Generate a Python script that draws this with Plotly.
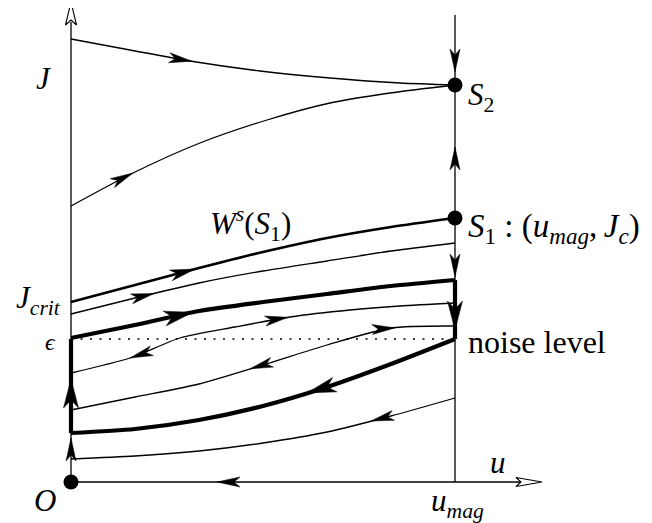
import numpy as np
import plotly.graph_objects as go

# ---------------- data (u, J) in diagram units (origin O at 0,0) ----------------
U_MAG = 384
EPS = 143          # noise level
S1_J = 264
S2_J = 397
J_TOP = 467        # top of the u = u_mag line
Y_AXIS_TOP = 480
X_AXIS_END = 482

# trajectories
top_u = [0, 59, 119, 189, 259, 329, 384]
top_J = [443, 432, 421, 411, 404, 399, 397]

second_u = [0, 62, 129, 196, 259, 319, 384]
second_J = [276, 309, 339, 362, 379, 389, 397]

ws_u = [0, 64, 128, 192, 256, 320, 384]
ws_J = [180, 197, 214, 230, 244, 255, 264]

below_ws_u = [0, 64, 128, 192, 256, 320, 384]
below_ws_J = [168, 184, 199, 211, 221, 231, 239]

eps_loop_u = [0, 64, 128, 192, 256, 320, 384]
eps_loop_J = [144, 157, 171, 180, 188, 196, 202]

curveA_u = [0, 59, 109, 164, 219, 279, 329, 384]
curveA_J = [109, 124, 144, 155, 165, 172, 176, 179]

curveB_u = [0, 64, 128, 192, 256, 320, 384]
curveB_J = [72, 85, 98, 117, 137, 154, 156]

return_u = [0, 64, 128, 192, 256, 320, 384]
return_J = [49, 53, 62, 76, 95, 118, 143]

bottom_u = [0, 64, 128, 192, 256, 320, 384]
bottom_J = [23, 26, 31, 39, 50, 66, 84]

LOOP_BOTTOM = 49

# arrow tips along curves: (curve, tip u, direction sign, size)
curve_arrows = [
    ("top", 121, +1, "thin"),
    ("second", 62, +1, "thin"),
    ("ws", 124, +1, "mid"),
    ("below_ws", 83, +1, "thin"),
    ("eps_loop", 122, +1, "thick"),
    ("curveA", 59, -1, "thin"),
    ("curveA", 217, +1, "thin"),
    ("curveB", 179, -1, "thin"),
    ("curveB", 324, +1, "thin"),
    ("return", 236, -1, "thick"),
    ("bottom", 300, -1, "thin"),
]
# arrows on vertical lines: (u, tip J, direction sign, size)
vertical_arrows = [
    (U_MAG, 410, -1, "thin"),
    (U_MAG, 335, +1, "thin"),
    (U_MAG, 205, -1, "thin"),
    (U_MAG, 152, -1, "thick"),
    (0, 103, +1, "thick"),
    (0, 44, +1, "thin"),
]
# arrow on the u axis
axis_arrows = [(146, 0, -1, "thin")]

curves = {
    "top": (top_u, top_J, 1.3),
    "second": (second_u, second_J, 1.3),
    "ws": (ws_u, ws_J, 2.6),
    "below_ws": (below_ws_u, below_ws_J, 1.3),
    "eps_loop": (eps_loop_u, eps_loop_J, 4.2),
    "curveA": (curveA_u, curveA_J, 1.3),
    "curveB": (curveB_u, curveB_J, 1.3),
    "return": (return_u, return_J, 4.2),
    "bottom": (bottom_u, bottom_J, 1.3),
}

ARROW_SIZES = {"thin": (23, 5.0, 6), "mid": (25, 5.5, 7), "thick": (29, 7.5, 8)}

fig = go.Figure()

def add_line(xs, ys, width, dash=None, shape="spline"):
    fig.add_trace(go.Scatter(x=xs, y=ys, mode="lines",
                             line=dict(color="black", width=width, dash=dash,
                                       shape=shape, smoothing=0.7),
                             hoverinfo="skip"))

def arrowhead(tx, ty, dx, dy, size, filled=True, lw=0.5):
    L, W, d = ARROW_SIZES[size] if isinstance(size, str) else size
    n = np.hypot(dx, dy)
    dx, dy = dx / n, dy / n
    px, py = -dy, dx
    xs = [tx, tx - L * dx + W * px, tx - (L - d) * dx, tx - L * dx - W * px, tx]
    ys = [ty, ty - L * dy + W * py, ty - (L - d) * dy, ty - L * dy - W * py, ty]
    fig.add_trace(go.Scatter(x=xs, y=ys, mode="lines", fill="toself",
                             fillcolor="black" if filled else "white",
                             line=dict(color="black", width=lw),
                             hoverinfo="skip"))

# axes
add_line([0, 0], [0, Y_AXIS_TOP - 20], 1.3, shape="linear")
add_line([0, X_AXIS_END - 24], [0, 0], 1.3, shape="linear")
add_line([U_MAG, U_MAG], [0, J_TOP], 1.3, shape="linear")

# noise level dotted line
add_line([0, U_MAG], [EPS, EPS], 1.5, dash="2px,7.5px", shape="linear")

# trajectories
for name, (us, Js, w) in curves.items():
    add_line(us, Js, w)

# thick vertical segments of the loop
add_line([0, 0], [LOOP_BOTTOM, EPS], 4.2, shape="linear")
add_line([U_MAG, U_MAG], [eps_loop_J[-1], EPS], 4.2, shape="linear")

# arrowheads along curves
for name, tu, sgn, size in curve_arrows:
    us, Js, _ = curves[name]
    us = np.array(us, float); Js = np.array(Js, float)
    tJ = np.interp(tu, us, Js)
    h = 6.0
    dJ = (np.interp(tu + h, us, Js) - np.interp(tu - h, us, Js)) / (2 * h)
    arrowhead(tu, tJ, sgn * 1.0, sgn * dJ, size)

for u0, tJ, sgn, size in vertical_arrows:
    arrowhead(u0, tJ, 0, sgn, size)

for tu, tJ, sgn, size in axis_arrows:
    arrowhead(tu, tJ, sgn, 0, size)

# open arrowheads at axis ends
arrowhead(0, Y_AXIS_TOP, 0, 1, (23, 5.5, 5), filled=False, lw=1.1)
arrowhead(X_AXIS_END - 11, 0, 1, 0, (26, 4.5, 5), filled=False, lw=1.1)

# fixed points
fig.add_trace(go.Scatter(x=[0, U_MAG, U_MAG], y=[0, S1_J, S2_J], mode="markers",
                         marker=dict(color="black", size=15), hoverinfo="skip"))

FONT = "Liberation Serif"
def label(x, y, text, size=31, xanchor="center", yanchor="middle"):
    fig.add_annotation(x=x, y=y, text=text, showarrow=False, xref="x", yref="y",
                       xanchor=xanchor, yanchor=yanchor,
                       font=dict(family=FONT, size=size, color="black"))

label(-28, 404, "<i>J</i>")
label(179, 258, "<i>W<sup>s</sup></i>(<i>S</i><sub>1</sub>)")
label(395, 385, "<i>S</i><sub>2</sub>", xanchor="left")
label(395, 254, "<i>S</i><sub>1</sub> : (<i>u<sub>mag</sub></i>,\u2009<i>J<sub>c</sub></i>)",
      xanchor="left", size=33)
label(-8, 182, "<i>J<sub>crit</sub></i>", xanchor="right")
label(-21, 140, "<i>ϵ</i>", size=24)
label(395, 140, "noise level", xanchor="left", size=32)
label(427, 20, "<i>u</i>")
label(-26, -18, "<i>O</i>")
label(386, -21, "<i>u<sub>mag</sub></i>")

# the page body adds an 8 px margin, so the figure is sized to fit the window
fig.update_layout(
    width=644, height=515, margin=dict(l=0, r=0, t=0, b=0),
    paper_bgcolor="white", plot_bgcolor="white", showlegend=False,
    xaxis=dict(range=[-63, 581], visible=False, fixedrange=True),
    yaxis=dict(range=[-41, 474], visible=False, fixedrange=True),
)

fig.write_html("out.html")
